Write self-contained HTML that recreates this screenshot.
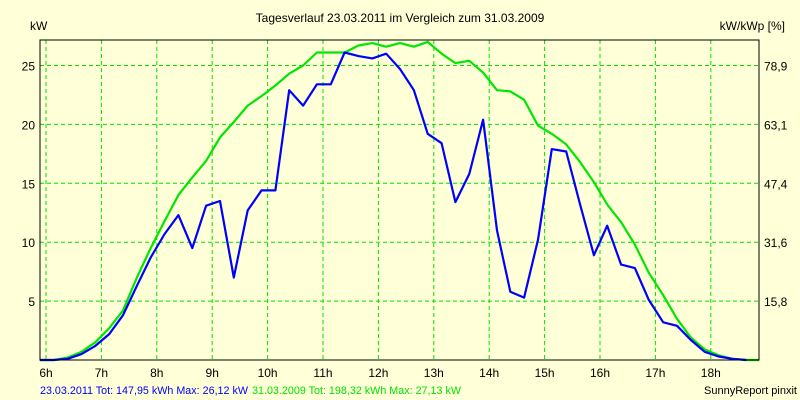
<!DOCTYPE html>
<html><head><meta charset="utf-8"><style>
body{margin:0;background:#ffffd8;}
svg{display:block;font-family:"Liberation Sans",sans-serif;font-size:12px;}
</style></head><body>
<svg id="chart" width="800" height="400" viewBox="0 0 800 400">
<rect x="0" y="0" width="800" height="400" fill="#ffffd8"/>
<text x="400" y="22" text-anchor="middle" fill="#000">Tagesverlauf 23.03.2011 im Vergleich zum 31.03.2009</text>
<text x="30" y="30" fill="#000">kW</text>
<text x="785" y="30" text-anchor="end" fill="#000">kW/kWp [%]</text>
<g id="grid"></g>
<g id="series"></g>
<rect x="40" y="40" width="719" height="320" fill="none" stroke="#000" stroke-width="1"/>
<g id="labels"></g>
<text x="40" y="394" fill="#0000ff" font-size="11" textLength="208" lengthAdjust="spacingAndGlyphs">23.03.2011 Tot: 147,95 kWh Max: 26,12 kW</text>
<text x="252" y="394" fill="#00e000" font-size="11" textLength="209" lengthAdjust="spacingAndGlyphs">31.03.2009 Tot: 198,32 kWh Max: 27,13 kW</text>
<text x="797" y="394" text-anchor="end" fill="#000" font-size="11">SunnyReport pinxit</text>
</svg>
<script>
const hourTicks = [6,7,8,9,10,11,12,13,14,15,16,17,18];
const yTicks = [5,10,15,20,25];
const rightTicks = ["15,8","31,6","47,4","63,1","78,9"];
const times = [5.89,6.14,6.39,6.64,6.89,7.14,7.39,7.64,7.89,8.14,8.39,8.64,8.89,9.14,9.39,9.64,9.89,10.14,10.39,10.64,10.89,11.14,11.39,11.64,11.89,12.14,12.39,12.64,12.89,13.14,13.39,13.64,13.89,14.14,14.38,14.63,14.88,15.13,15.39,15.64,15.89,16.13,16.38,16.63,16.88,17.14,17.39,17.64,17.89,18.14,18.39,18.64,18.87];
const blue2011 = [0,0,0.1,0.5,1.2,2.2,3.8,6.3,8.7,10.7,12.3,9.5,13.1,13.5,7.0,12.7,14.4,14.4,22.9,21.6,23.4,23.4,26.1,25.8,25.6,26.0,24.7,22.9,19.2,18.4,13.4,15.8,20.4,11.0,5.8,5.3,10.2,17.9,17.7,13.2,8.9,11.4,8.1,7.8,5.1,3.2,2.9,1.7,0.7,0.3,0.1,0,null];
const green2009 = [0,0,0.2,0.7,1.5,2.7,4.2,7.0,9.5,11.8,14.0,15.5,16.9,18.9,20.2,21.6,22.4,23.3,24.3,25.0,26.1,26.1,26.1,26.7,26.9,26.6,26.9,26.6,27.0,26.0,25.2,25.4,24.4,22.9,22.8,22.1,19.9,19.2,18.3,16.8,15.1,13.2,11.7,9.8,7.4,5.5,3.5,1.9,0.9,0.4,0.1,0,0];
const NS="http://www.w3.org/2000/svg";
const X = h => 46 + (h-6)*55.4;
const Y = v => 360 - v*11.78;
const grid=document.getElementById('grid'), labels=document.getElementById('labels'), series=document.getElementById('series');
hourTicks.forEach(h=>{
  const l=document.createElementNS(NS,'line');
  l.setAttribute('x1',X(h));l.setAttribute('x2',X(h));l.setAttribute('y1',40);l.setAttribute('y2',360);
  l.setAttribute('stroke','#00e000');l.setAttribute('stroke-dasharray','4,3');
  
  
  grid.appendChild(l);
  const t=document.createElementNS(NS,'text');
  t.setAttribute('x',X(h));t.setAttribute('y',377);t.setAttribute('text-anchor','middle');
  t.textContent=h+'h';
  
  
  labels.appendChild(t);
});
yTicks.forEach((v,i)=>{
  const l=document.createElementNS(NS,'line');
  l.setAttribute('x1',40);l.setAttribute('x2',759);l.setAttribute('y1',Y(v));l.setAttribute('y2',Y(v));
  l.setAttribute('stroke','#00e000');l.setAttribute('stroke-dasharray','4,3');
  
  
  grid.appendChild(l);
  const t=document.createElementNS(NS,'text');
  t.setAttribute('x',35);t.setAttribute('y',Y(v)+5);t.setAttribute('text-anchor','end');
  t.textContent=v;
  
  
  labels.appendChild(t);
  const r=document.createElementNS(NS,'text');
  r.setAttribute('x',764);r.setAttribute('y',Y(v)+5);
  r.textContent=rightTicks[i];
  
  
  labels.appendChild(r);
});
function drawLine(vals,color,name){
  const pts=[];
  vals.forEach((v,i)=>{ if(v!==null) pts.push(X(times[i]).toFixed(1)+','+Y(v).toFixed(1)); });
  const p=document.createElementNS(NS,'polyline');
  p.setAttribute('points',pts.join(' '));
  p.setAttribute('fill','none');p.setAttribute('stroke',color);p.setAttribute('stroke-width','2.2');
  p.setAttribute('stroke-linejoin','round');
  
  
  series.appendChild(p);
}
drawLine(green2009,'#00e600','series-2009-line');
drawLine(blue2011,'#0000ff','series-2011-line');
</script>
</body></html>
